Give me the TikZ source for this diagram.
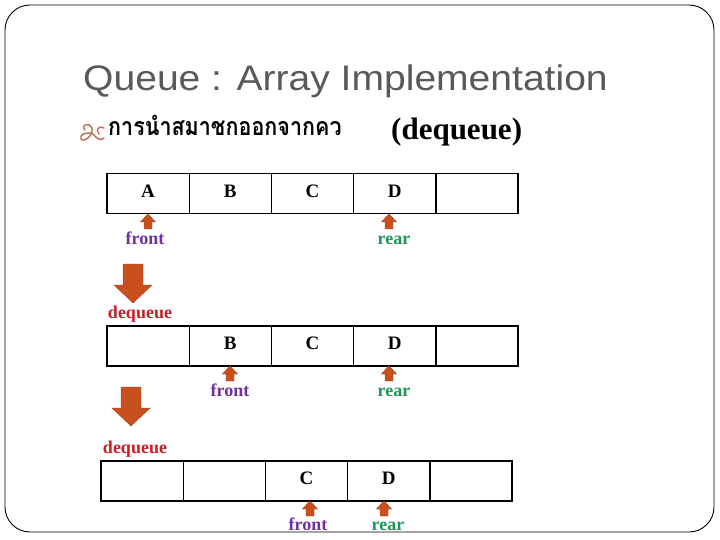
\documentclass[tikz,border=0pt]{standalone}
\usepackage{fontspec}
\setmainfont{Liberation Serif}
\newfontfamily\titlefont{Liberation Sans}
\newfontfamily\thaifont[Script=Thai]{Loma}
\usetikzlibrary{positioning}
\definecolor{titlegray}{RGB}{89,89,89}
\definecolor{ptrfill}{RGB}{200,80,30}
\definecolor{ptredge}{RGB}{160,60,25}
\definecolor{frontpurple}{RGB}{112,48,160}
\definecolor{reargreen}{RGB}{30,150,90}
\definecolor{dequeuered}{RGB}{200,30,40}
\definecolor{bulletbrown}{RGB}{190,110,80}

% small pointer under a cell: name, x, y of tip
\newcommand{\ptrup}[3]{%
  \coordinate (#1) at (#2,#3);
  \filldraw[ptr] (#1) -- ++(7.5,8) -- ++(-3.5,0) -- ++(0,7) -- ++(-8,0) -- ++(0,-7) -- ++(-3.5,0) -- cycle;}
% big arrow between two rows: name, x of tip, y of top
\newcommand{\stepdown}[3]{%
  \coordinate (#1) at (#2,#3);
  \filldraw[ptr] (#1) ++(-10,0) -- ++(20,0) -- ++(0,21) -- ++(9,0) -- ++(-19,18) -- ++(-19,-18) -- ++(9,0) -- cycle;}

\begin{document}
\begin{tikzpicture}[x=1pt,y=-1pt,
    cell/.style={draw,line width=1.4pt,minimum width=82.2pt,minimum height=40pt,inner sep=0pt,
      text height=13pt,text depth=6pt,font=\fontsize{19}{19}\selectfont\bfseries},
    ptr/.style={fill=ptrfill,draw=ptredge,line width=0.4pt},
    lbl/.style={anchor=base,inner sep=0pt,font=\fontsize{18}{18}\selectfont\bfseries},
    frontlbl/.style={lbl,text=frontpurple},
    rearlbl/.style={lbl,text=reargreen},
    deqlbl/.style={lbl,text=dequeuered}]
        \useasboundingbox (0,0) rectangle (720,540);
        \draw[line width=0.9pt,rounded corners=25pt] (5,5) rectangle (714,532);
        % heading
        \node[anchor=base west,inner sep=0pt,text=titlegray] (title) at (83,91)
          {\scalebox{1.10}[1]{\titlefont\fontsize{35.5}{36}\selectfont Queue : Array Implementation}};
        \draw[bulletbrown,line width=1.4pt,line cap=round]
          (85,130) .. controls (80,124) and (90,122) .. (92,128)
          .. controls (94,135) and (84,143) .. (81,139)
          .. controls (78,135) and (89,130) .. (94,135)
          .. controls (97,139) and (101,141) .. (104,138)
          (104,128) .. controls (99,125) and (95,130) .. (99,134);
        \node[anchor=base west,inner sep=0pt] (thai) at (108,136)
          {\scalebox{0.86}[1]{\thaifont\bfseries\fontsize{25}{26}\selectfont การนำสมาชกออกจากคว}};
        \node[anchor=base west,inner sep=0pt] (op) at (391,140)
          {\fontsize{31}{32}\selectfont\bfseries (dequeue)};
        % first row
        \foreach \i/\t in {1/A,2/B,3/C,4/D,5/{}}
          \node[cell] (qa\i) at ({107+82.2*(\i-0.5)},193.5) {\t};
        \ptrup{pa1}{148}{214}
        \ptrup{pa2}{389}{214}
        \node[frontlbl] (fa) at (145,244) {front};
        \node[rearlbl] (ra) at (394,244) {rear};
        \stepdown{da}{133}{264}
        \node[deqlbl] (la) at (140,318) {dequeue};
        % second row
        \foreach \i/\t in {1/{},2/B,3/C,4/D,5/{}}
          \node[cell] (qb\i) at ({107+82.2*(\i-0.5)},346) {\t};
        \ptrup{pb1}{230}{366}
        \ptrup{pb2}{389}{366}
        \node[frontlbl] (fb) at (230,396) {front};
        \node[rearlbl] (rb) at (394,396) {rear};
        \stepdown{db}{131}{387}
        \node[deqlbl] (lb) at (135,453) {dequeue};
        % third row
        \foreach \i/\t in {1/{},2/{},3/C,4/D,5/{}}
          \node[cell] (qc\i) at ({101+82.2*(\i-0.5)},481) {\t};
        \ptrup{pc1}{310}{501}
        \ptrup{pc2}{384}{501}
        \node[frontlbl] (fc) at (308,530) {front};
        \node[rearlbl] (rc) at (388,530) {rear};
\end{tikzpicture}
\end{document}
